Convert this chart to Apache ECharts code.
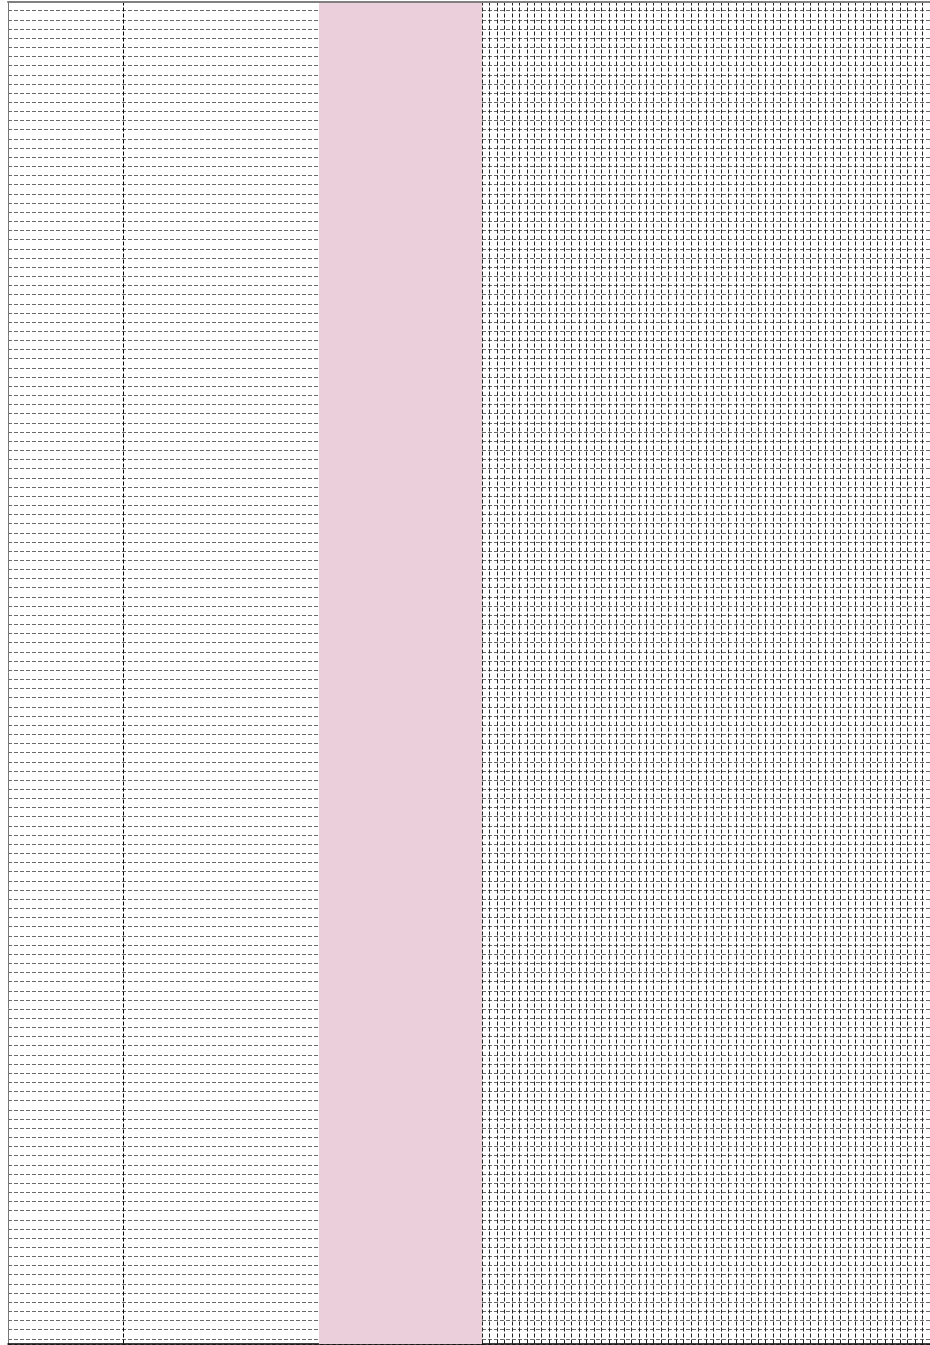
<!DOCTYPE html>
<html>
<head>
<meta charset="utf-8">
<script src="https://cdn.jsdelivr.net/npm/echarts@6/dist/echarts.min.js"></script>
<style>
  html, body { margin: 0; padding: 0; background: #fff; }
  #chart { width: 930px; height: 1345px; }
</style>
</head>
<body>
<div id="chart"></div>
<script>
// ---- data ----
const leftAxisRange = [0, 47.4];      // x range of the left panel
const leftRefLine = [11.5];           // vertical dashed reference line (left panel)
const highlightBand = [31.1, 47.4];   // shaded band (left panel x units)
const rightAxisRange = [0, 60];       // x range of the right panel
const rowRange = [0, 146.56];         // row axis range (counted from top)

// ---- chart ----
const chart = echarts.init(document.getElementById('chart'), null, { renderer: 'canvas' });

const hSplit = { show: true, lineStyle: { color: '#6a6a6a', type: 'dashed', width: 1 } };
const topAxis = (gridIndex) => ({
  type: 'value', gridIndex, position: 'top', min: 0, max: 1, z: 10,
  axisLine: { show: true, onZero: false, lineStyle: { color: '#808080', width: 2 } },
  axisTick: { show: false }, axisLabel: { show: false }, splitLine: { show: false }
});

const option = {
  animation: false,
  backgroundColor: '#fff',
  grid: [
    { left: 8, top: 1.5, width: 474, height: 1342.5 },
    { left: 482, top: 1.5, width: 620, height: 1342.5 }
  ],
  xAxis: [
    {
      type: 'value', gridIndex: 0, position: 'bottom',
      min: leftAxisRange[0], max: leftAxisRange[1],
      axisLine: { show: true, onZero: false, lineStyle: { color: '#000', width: 1.5 } },
      axisTick: { show: false }, axisLabel: { show: false }, splitLine: { show: false }
    },
    topAxis(0),
    {
      type: 'value', gridIndex: 1, position: 'bottom',
      min: rightAxisRange[0], max: rightAxisRange[1], interval: 1,
      axisLine: { show: true, onZero: false, lineStyle: { color: '#000', width: 1.5 } },
      axisTick: { show: false }, axisLabel: { show: false },
      splitLine: { show: true, showMinLine: true, lineStyle: { color: '#222', type: 'dashed', width: 1 } }
    },
    topAxis(1)
  ],
  yAxis: [
    {
      type: 'value', gridIndex: 0, inverse: true,
      min: rowRange[0], max: rowRange[1], interval: 1,
      axisLine: { show: true, onZero: false, lineStyle: { color: '#777', width: 1 } },
      axisTick: { show: false }, axisLabel: { show: false }, splitLine: hSplit
    },
    {
      type: 'value', gridIndex: 1, inverse: true,
      min: rowRange[0], max: rowRange[1], interval: 1,
      axisLine: { show: false },
      axisTick: { show: false }, axisLabel: { show: false }, splitLine: hSplit
    }
  ],
  series: [
    {
      type: 'line', xAxisIndex: 0, yAxisIndex: 0, data: [], silent: true,
      markLine: {
        silent: true, symbol: ['none', 'none'], label: { show: false },
        lineStyle: { color: '#000', type: 'dashed', width: 1 },
        data: leftRefLine.map(v => ({ xAxis: v }))
      },
      markArea: {
        silent: true,
        itemStyle: { color: '#EBD0DC', opacity: 1 },
        data: [[{ xAxis: highlightBand[0], yAxis: rowRange[0] }, { xAxis: highlightBand[1], yAxis: rowRange[1] }]]
      }
    }
  ]
};
chart.setOption(option);
</script>
</body>
</html>
